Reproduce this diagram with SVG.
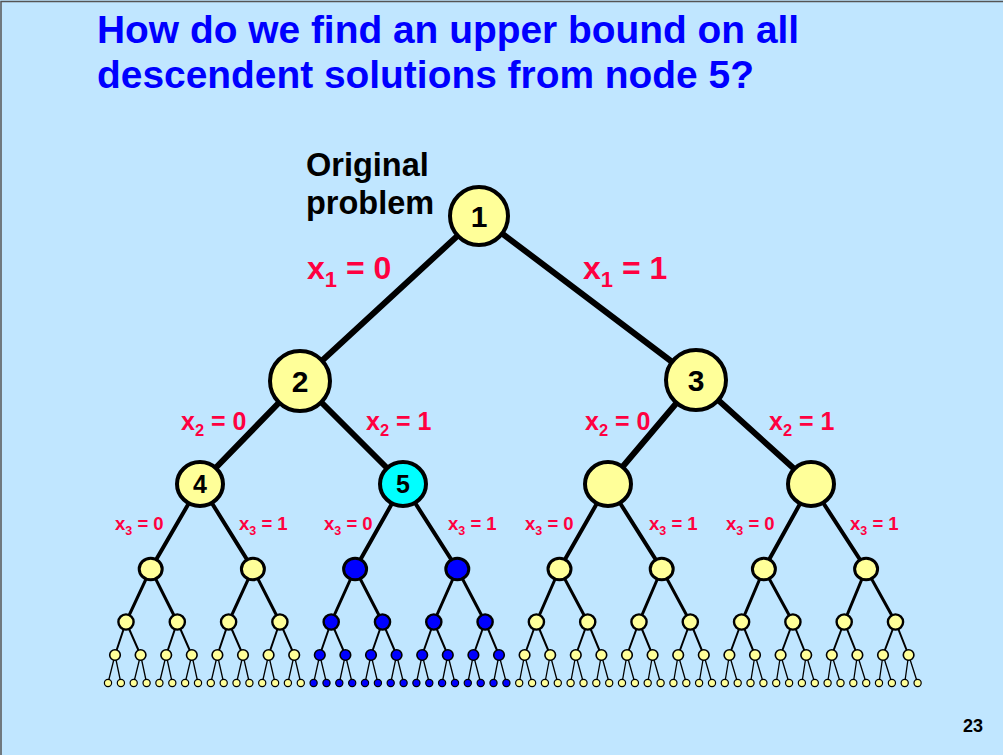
<svg xmlns="http://www.w3.org/2000/svg" width="1003" height="755" viewBox="0 0 1003 755">
<style>
.bg{fill:#C0E6FF}
.title{font-family:"Liberation Sans",Arial,sans-serif;font-weight:bold;font-size:38.9px;fill:#0000FF}
.lbl{font-family:"Liberation Sans",Arial,sans-serif;font-weight:bold;fill:#FF0040}
.blk{font-family:"Liberation Sans",Arial,sans-serif;font-weight:bold;fill:#000}
.num{font-family:"Liberation Sans",Arial,sans-serif;font-weight:bold;fill:#000;text-anchor:middle}
.edge{fill:none;stroke:#000;stroke-linejoin:round;stroke-linecap:butt}
.y{fill:#FFFF99;stroke:#000}
.c{fill:#00FFFF;stroke:#000}
.b{fill:#0000FF;stroke:#000}
.s1{stroke-width:4}
.s3{stroke-width:4}
.s4{stroke-width:3}
.s5{stroke-width:2.4}
.s6{stroke-width:1.6}
.s7{stroke-width:1.2}
</style>
<rect class="bg" x="0" y="0" width="1003" height="755"/>
<rect x="1" y="1.5" width="1010" height="770" fill="none" stroke="#555" stroke-width="1.5"/>

<text class="title" x="97" y="43">How do we find an upper bound on all</text>
<text class="title" x="97" y="88">descendent solutions from node 5?</text>

<text class="blk" x="306" y="176" font-size="32.5">Original</text>
<text class="blk" x="306" y="214" font-size="32.5">problem</text>

<g id="connectors">
<path class="edge" stroke-width="6" d="M300 381L479 216L696 380"/>
<path class="edge" stroke-width="6" d="M200 484L300 381L403 484M608 484L696 380L811 484"/>
<path class="edge" stroke-width="4" d="M150.7 569L200 484L252.9 569M355.1 569L403 484L457.3 569M559.5 569L608 484L661.7 569M763.9 569L811 484L866.1 569"/>
<path class="edge" stroke-width="3" d="M126 622L150.7 569L177.3 622M228.6 622L252.9 569L279.9 622M331.2 622L355.1 569L382.5 622M433.8 622L457.3 569L485.1 622M536.4 622L559.5 569L587.7 622M639 622L661.7 569L690.3 622M741.6 622L763.9 569L792.9 622M844.2 622L866.1 569L895.5 622"/>
<path class="edge" stroke-width="2" d="M115 655L126 622L140.6 655M166.2 655L177.3 622L191.8 655M217.4 655L228.6 622L243 655M268.6 655L279.9 622L294.2 655M319.8 655L331.2 622L345.4 655M371 655L382.5 622L396.6 655M422.2 655L433.8 622L447.8 655M473.4 655L485.1 622L499 655M524.6 655L536.4 622L550.2 655M575.8 655L587.7 622L601.4 655M627 655L639 622L652.6 655M678.2 655L690.3 622L703.8 655M729.4 655L741.6 622L755 655M780.6 655L792.9 622L806.2 655M831.8 655L844.2 622L857.4 655M883 655L895.5 622L908.6 655"/>
<path class="edge" stroke-width="1.3" d="M108 683L115 655L120.9 683M133.7 683L140.6 655L146.6 683M159.4 683L166.2 655L172.3 683M185.1 683L191.8 655L198 683M210.8 683L217.4 655L223.7 683M236.5 683L243 655L249.4 683M262.2 683L268.6 655L275.1 683M287.9 683L294.2 655L300.8 683M313.6 683L319.8 655L326.5 683M339.3 683L345.4 655L352.2 683M365 683L371 655L377.9 683M390.7 683L396.6 655L403.6 683M416.4 683L422.2 655L429.3 683M442.1 683L447.8 655L455 683M467.8 683L473.4 655L480.7 683M493.5 683L499 655L506.4 683M519.2 683L524.6 655L532.1 683M544.9 683L550.2 655L557.8 683M570.6 683L575.8 655L583.5 683M596.3 683L601.4 655L609.2 683M622 683L627 655L634.9 683M647.7 683L652.6 655L660.6 683M673.4 683L678.2 655L686.3 683M699.1 683L703.8 655L712 683M724.8 683L729.4 655L737.7 683M750.5 683L755 655L763.4 683M776.2 683L780.6 655L789.1 683M801.9 683L806.2 655L814.8 683M827.6 683L831.8 655L840.5 683M853.3 683L857.4 655L866.2 683M879 683L883 655L891.9 683M904.7 683L908.6 655L917.6 683"/>
</g>

<g id="labels">
<text class="lbl" x="307" y="279" font-size="32">x<tspan font-size="22" dy="8">1</tspan><tspan dy="-8"> = 0</tspan></text>
<text class="lbl" x="583" y="279" font-size="32">x<tspan font-size="22" dy="8">1</tspan><tspan dy="-8"> = 1</tspan></text>
<text class="lbl" x="181" y="430" font-size="25">x<tspan font-size="16.5" dy="6">2</tspan><tspan dy="-6"> = 0</tspan></text>
<text class="lbl" x="366" y="430" font-size="25">x<tspan font-size="16.5" dy="6">2</tspan><tspan dy="-6"> = 1</tspan></text>
<text class="lbl" x="585" y="430" font-size="25">x<tspan font-size="16.5" dy="6">2</tspan><tspan dy="-6"> = 0</tspan></text>
<text class="lbl" x="769" y="430" font-size="25">x<tspan font-size="16.5" dy="6">2</tspan><tspan dy="-6"> = 1</tspan></text>
<text class="lbl" x="115" y="530" font-size="18.5">x<tspan font-size="12.5" dy="4.5">3</tspan><tspan dy="-4.5"> = 0</tspan></text>
<text class="lbl" x="239" y="530" font-size="18.5">x<tspan font-size="12.5" dy="4.5">3</tspan><tspan dy="-4.5"> = 1</tspan></text>
<text class="lbl" x="324" y="530" font-size="18.5">x<tspan font-size="12.5" dy="4.5">3</tspan><tspan dy="-4.5"> = 0</tspan></text>
<text class="lbl" x="448" y="530" font-size="18.5">x<tspan font-size="12.5" dy="4.5">3</tspan><tspan dy="-4.5"> = 1</tspan></text>
<text class="lbl" x="525" y="530" font-size="18.5">x<tspan font-size="12.5" dy="4.5">3</tspan><tspan dy="-4.5"> = 0</tspan></text>
<text class="lbl" x="649" y="530" font-size="18.5">x<tspan font-size="12.5" dy="4.5">3</tspan><tspan dy="-4.5"> = 1</tspan></text>
<text class="lbl" x="726" y="530" font-size="18.5">x<tspan font-size="12.5" dy="4.5">3</tspan><tspan dy="-4.5"> = 0</tspan></text>
<text class="lbl" x="850" y="530" font-size="18.5">x<tspan font-size="12.5" dy="4.5">3</tspan><tspan dy="-4.5"> = 1</tspan></text>
</g>

<g id="node1"><circle class="y s1" cx="479" cy="216" r="29"/><text class="num" x="479" y="227" font-size="30">1</text></g>
<g id="node2"><circle class="y s1" cx="300" cy="381" r="30"/><text class="num" x="300" y="392" font-size="30">2</text></g>
<g id="node3"><circle class="y s1" cx="696" cy="380" r="30"/><text class="num" x="696" y="391" font-size="30">3</text></g>
<g id="node4"><ellipse class="y s3" cx="200" cy="484" rx="23" ry="22"/><text class="num" x="200" y="493" font-size="25">4</text></g>
<g id="node5"><ellipse class="c s3" cx="403" cy="484" rx="23" ry="22"/><text class="num" x="403" y="493" font-size="25">5</text></g>
<g id="node6"><ellipse class="y s3" cx="608" cy="484" rx="23" ry="22"/></g>
<g id="node7"><ellipse class="y s3" cx="811" cy="484" rx="23" ry="22"/></g>

<g id="l4-0"><ellipse class="y s4" cx="150.7" cy="569" rx="11.5" ry="10.8"/></g>
<g id="l4-1"><ellipse class="y s4" cx="252.9" cy="569" rx="11.5" ry="10.8"/></g>
<g id="l4-2"><ellipse class="b s4" cx="355.1" cy="569" rx="11.5" ry="10.8"/></g>
<g id="l4-3"><ellipse class="b s4" cx="457.3" cy="569" rx="11.5" ry="10.8"/></g>
<g id="l4-4"><ellipse class="y s4" cx="559.5" cy="569" rx="11.5" ry="10.8"/></g>
<g id="l4-5"><ellipse class="y s4" cx="661.7" cy="569" rx="11.5" ry="10.8"/></g>
<g id="l4-6"><ellipse class="y s4" cx="763.9" cy="569" rx="11.5" ry="10.8"/></g>
<g id="l4-7"><ellipse class="y s4" cx="866.1" cy="569" rx="11.5" ry="10.8"/></g>

<g id="l5-0"><circle class="y s5" cx="126" cy="622" r="7.6"/></g>
<g id="l5-1"><circle class="y s5" cx="177.3" cy="622" r="7.6"/></g>
<g id="l5-2"><circle class="y s5" cx="228.6" cy="622" r="7.6"/></g>
<g id="l5-3"><circle class="y s5" cx="279.9" cy="622" r="7.6"/></g>
<g id="l5-4"><circle class="b s5" cx="331.2" cy="622" r="7.6"/></g>
<g id="l5-5"><circle class="b s5" cx="382.5" cy="622" r="7.6"/></g>
<g id="l5-6"><circle class="b s5" cx="433.8" cy="622" r="7.6"/></g>
<g id="l5-7"><circle class="b s5" cx="485.1" cy="622" r="7.6"/></g>
<g id="l5-8"><circle class="y s5" cx="536.4" cy="622" r="7.6"/></g>
<g id="l5-9"><circle class="y s5" cx="587.7" cy="622" r="7.6"/></g>
<g id="l5-10"><circle class="y s5" cx="639" cy="622" r="7.6"/></g>
<g id="l5-11"><circle class="y s5" cx="690.3" cy="622" r="7.6"/></g>
<g id="l5-12"><circle class="y s5" cx="741.6" cy="622" r="7.6"/></g>
<g id="l5-13"><circle class="y s5" cx="792.9" cy="622" r="7.6"/></g>
<g id="l5-14"><circle class="y s5" cx="844.2" cy="622" r="7.6"/></g>
<g id="l5-15"><circle class="y s5" cx="895.5" cy="622" r="7.6"/></g>

<g id="l6-0"><circle class="y s6" cx="115" cy="655" r="5.3"/></g>
<g id="l6-1"><circle class="y s6" cx="140.6" cy="655" r="5.3"/></g>
<g id="l6-2"><circle class="y s6" cx="166.2" cy="655" r="5.3"/></g>
<g id="l6-3"><circle class="y s6" cx="191.8" cy="655" r="5.3"/></g>
<g id="l6-4"><circle class="y s6" cx="217.4" cy="655" r="5.3"/></g>
<g id="l6-5"><circle class="y s6" cx="243" cy="655" r="5.3"/></g>
<g id="l6-6"><circle class="y s6" cx="268.6" cy="655" r="5.3"/></g>
<g id="l6-7"><circle class="y s6" cx="294.2" cy="655" r="5.3"/></g>
<g id="l6-8"><circle class="b s6" cx="319.8" cy="655" r="5.3"/></g>
<g id="l6-9"><circle class="b s6" cx="345.4" cy="655" r="5.3"/></g>
<g id="l6-10"><circle class="b s6" cx="371" cy="655" r="5.3"/></g>
<g id="l6-11"><circle class="b s6" cx="396.6" cy="655" r="5.3"/></g>
<g id="l6-12"><circle class="b s6" cx="422.2" cy="655" r="5.3"/></g>
<g id="l6-13"><circle class="b s6" cx="447.8" cy="655" r="5.3"/></g>
<g id="l6-14"><circle class="b s6" cx="473.4" cy="655" r="5.3"/></g>
<g id="l6-15"><circle class="b s6" cx="499" cy="655" r="5.3"/></g>
<g id="l6-16"><circle class="y s6" cx="524.6" cy="655" r="5.3"/></g>
<g id="l6-17"><circle class="y s6" cx="550.2" cy="655" r="5.3"/></g>
<g id="l6-18"><circle class="y s6" cx="575.8" cy="655" r="5.3"/></g>
<g id="l6-19"><circle class="y s6" cx="601.4" cy="655" r="5.3"/></g>
<g id="l6-20"><circle class="y s6" cx="627" cy="655" r="5.3"/></g>
<g id="l6-21"><circle class="y s6" cx="652.6" cy="655" r="5.3"/></g>
<g id="l6-22"><circle class="y s6" cx="678.2" cy="655" r="5.3"/></g>
<g id="l6-23"><circle class="y s6" cx="703.8" cy="655" r="5.3"/></g>
<g id="l6-24"><circle class="y s6" cx="729.4" cy="655" r="5.3"/></g>
<g id="l6-25"><circle class="y s6" cx="755" cy="655" r="5.3"/></g>
<g id="l6-26"><circle class="y s6" cx="780.6" cy="655" r="5.3"/></g>
<g id="l6-27"><circle class="y s6" cx="806.2" cy="655" r="5.3"/></g>
<g id="l6-28"><circle class="y s6" cx="831.8" cy="655" r="5.3"/></g>
<g id="l6-29"><circle class="y s6" cx="857.4" cy="655" r="5.3"/></g>
<g id="l6-30"><circle class="y s6" cx="883" cy="655" r="5.3"/></g>
<g id="l6-31"><circle class="y s6" cx="908.6" cy="655" r="5.3"/></g>

<g id="l7-0"><circle class="y s7" cx="108" cy="683" r="3.6"/></g>
<g id="l7-1"><circle class="y s7" cx="120.9" cy="683" r="3.6"/></g>
<g id="l7-2"><circle class="y s7" cx="133.7" cy="683" r="3.6"/></g>
<g id="l7-3"><circle class="y s7" cx="146.6" cy="683" r="3.6"/></g>
<g id="l7-4"><circle class="y s7" cx="159.4" cy="683" r="3.6"/></g>
<g id="l7-5"><circle class="y s7" cx="172.3" cy="683" r="3.6"/></g>
<g id="l7-6"><circle class="y s7" cx="185.1" cy="683" r="3.6"/></g>
<g id="l7-7"><circle class="y s7" cx="198" cy="683" r="3.6"/></g>
<g id="l7-8"><circle class="y s7" cx="210.8" cy="683" r="3.6"/></g>
<g id="l7-9"><circle class="y s7" cx="223.7" cy="683" r="3.6"/></g>
<g id="l7-10"><circle class="y s7" cx="236.5" cy="683" r="3.6"/></g>
<g id="l7-11"><circle class="y s7" cx="249.4" cy="683" r="3.6"/></g>
<g id="l7-12"><circle class="y s7" cx="262.2" cy="683" r="3.6"/></g>
<g id="l7-13"><circle class="y s7" cx="275.1" cy="683" r="3.6"/></g>
<g id="l7-14"><circle class="y s7" cx="287.9" cy="683" r="3.6"/></g>
<g id="l7-15"><circle class="y s7" cx="300.8" cy="683" r="3.6"/></g>
<g id="l7-16"><circle class="b s7" cx="313.6" cy="683" r="3.6"/></g>
<g id="l7-17"><circle class="b s7" cx="326.5" cy="683" r="3.6"/></g>
<g id="l7-18"><circle class="b s7" cx="339.3" cy="683" r="3.6"/></g>
<g id="l7-19"><circle class="b s7" cx="352.2" cy="683" r="3.6"/></g>
<g id="l7-20"><circle class="b s7" cx="365" cy="683" r="3.6"/></g>
<g id="l7-21"><circle class="b s7" cx="377.9" cy="683" r="3.6"/></g>
<g id="l7-22"><circle class="b s7" cx="390.7" cy="683" r="3.6"/></g>
<g id="l7-23"><circle class="b s7" cx="403.6" cy="683" r="3.6"/></g>
<g id="l7-24"><circle class="b s7" cx="416.4" cy="683" r="3.6"/></g>
<g id="l7-25"><circle class="b s7" cx="429.3" cy="683" r="3.6"/></g>
<g id="l7-26"><circle class="b s7" cx="442.1" cy="683" r="3.6"/></g>
<g id="l7-27"><circle class="b s7" cx="455" cy="683" r="3.6"/></g>
<g id="l7-28"><circle class="b s7" cx="467.8" cy="683" r="3.6"/></g>
<g id="l7-29"><circle class="b s7" cx="480.7" cy="683" r="3.6"/></g>
<g id="l7-30"><circle class="b s7" cx="493.5" cy="683" r="3.6"/></g>
<g id="l7-31"><circle class="b s7" cx="506.4" cy="683" r="3.6"/></g>
<g id="l7-32"><circle class="y s7" cx="519.2" cy="683" r="3.6"/></g>
<g id="l7-33"><circle class="y s7" cx="532.1" cy="683" r="3.6"/></g>
<g id="l7-34"><circle class="y s7" cx="544.9" cy="683" r="3.6"/></g>
<g id="l7-35"><circle class="y s7" cx="557.8" cy="683" r="3.6"/></g>
<g id="l7-36"><circle class="y s7" cx="570.6" cy="683" r="3.6"/></g>
<g id="l7-37"><circle class="y s7" cx="583.5" cy="683" r="3.6"/></g>
<g id="l7-38"><circle class="y s7" cx="596.3" cy="683" r="3.6"/></g>
<g id="l7-39"><circle class="y s7" cx="609.2" cy="683" r="3.6"/></g>
<g id="l7-40"><circle class="y s7" cx="622" cy="683" r="3.6"/></g>
<g id="l7-41"><circle class="y s7" cx="634.9" cy="683" r="3.6"/></g>
<g id="l7-42"><circle class="y s7" cx="647.7" cy="683" r="3.6"/></g>
<g id="l7-43"><circle class="y s7" cx="660.6" cy="683" r="3.6"/></g>
<g id="l7-44"><circle class="y s7" cx="673.4" cy="683" r="3.6"/></g>
<g id="l7-45"><circle class="y s7" cx="686.3" cy="683" r="3.6"/></g>
<g id="l7-46"><circle class="y s7" cx="699.1" cy="683" r="3.6"/></g>
<g id="l7-47"><circle class="y s7" cx="712" cy="683" r="3.6"/></g>
<g id="l7-48"><circle class="y s7" cx="724.8" cy="683" r="3.6"/></g>
<g id="l7-49"><circle class="y s7" cx="737.7" cy="683" r="3.6"/></g>
<g id="l7-50"><circle class="y s7" cx="750.5" cy="683" r="3.6"/></g>
<g id="l7-51"><circle class="y s7" cx="763.4" cy="683" r="3.6"/></g>
<g id="l7-52"><circle class="y s7" cx="776.2" cy="683" r="3.6"/></g>
<g id="l7-53"><circle class="y s7" cx="789.1" cy="683" r="3.6"/></g>
<g id="l7-54"><circle class="y s7" cx="801.9" cy="683" r="3.6"/></g>
<g id="l7-55"><circle class="y s7" cx="814.8" cy="683" r="3.6"/></g>
<g id="l7-56"><circle class="y s7" cx="827.6" cy="683" r="3.6"/></g>
<g id="l7-57"><circle class="y s7" cx="840.5" cy="683" r="3.6"/></g>
<g id="l7-58"><circle class="y s7" cx="853.3" cy="683" r="3.6"/></g>
<g id="l7-59"><circle class="y s7" cx="866.2" cy="683" r="3.6"/></g>
<g id="l7-60"><circle class="y s7" cx="879" cy="683" r="3.6"/></g>
<g id="l7-61"><circle class="y s7" cx="891.9" cy="683" r="3.6"/></g>
<g id="l7-62"><circle class="y s7" cx="904.7" cy="683" r="3.6"/></g>
<g id="l7-63"><circle class="y s7" cx="917.6" cy="683" r="3.6"/></g>

<text class="blk" x="963" y="732" font-size="18">23</text>
</svg>
